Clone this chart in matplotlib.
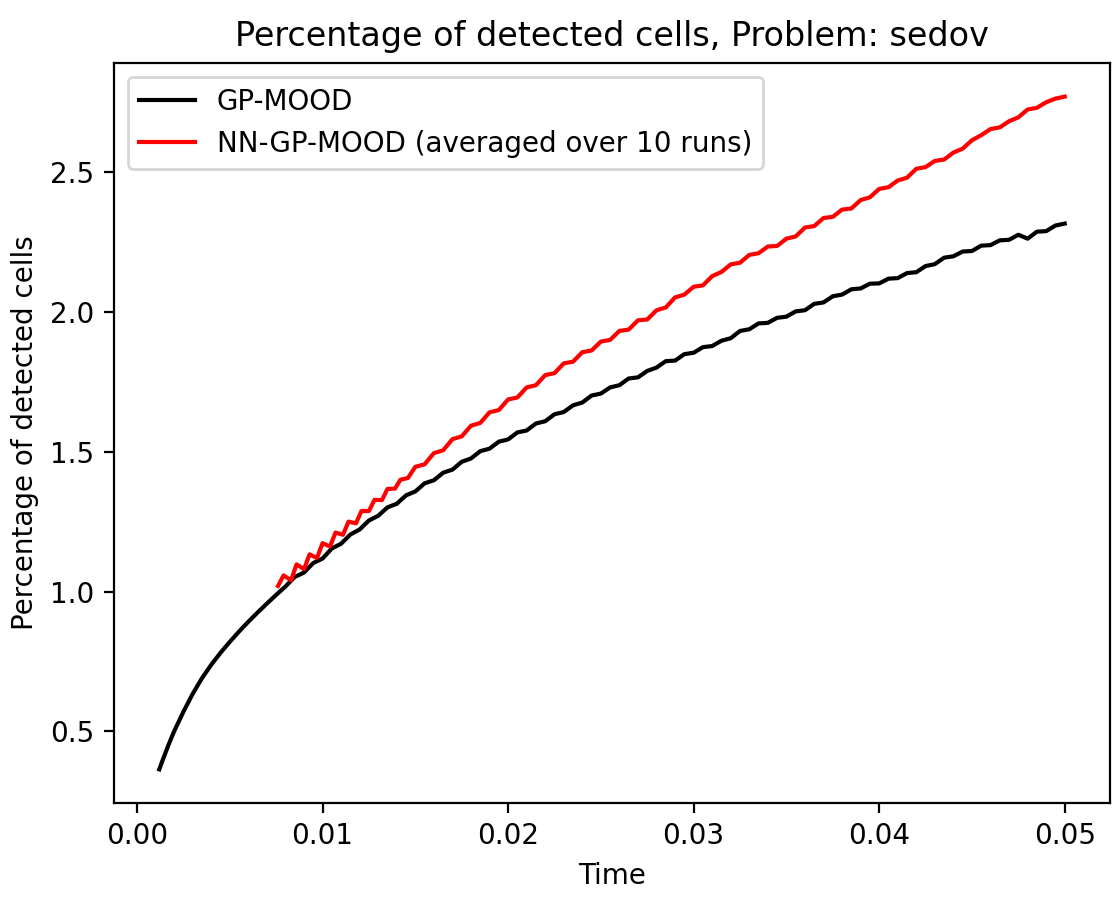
import matplotlib
matplotlib.use("Agg")
import matplotlib.pyplot as plt

# GP-MOOD: time and percentage of detected cells
time_gp = [0.0012, 0.0014, 0.0017, 0.0020, 0.0025, 0.0030, 0.0035, 0.0040, 0.0045, 0.0050, 0.0055,
           0.0060, 0.0065, 0.0070, 0.0075, 0.0080, 0.0085, 0.0090, 0.0095, 0.0100, 0.0105,
           0.0110, 0.0115, 0.0120, 0.0125, 0.0130, 0.0135, 0.0140, 0.0145, 0.0150, 0.0155,
           0.0160, 0.0165, 0.0170, 0.0175, 0.0180, 0.0185, 0.0190, 0.0195, 0.0200, 0.0205,
           0.0210, 0.0215, 0.0220, 0.0225, 0.0230, 0.0235, 0.0240, 0.0245, 0.0250, 0.0255,
           0.0260, 0.0265, 0.0270, 0.0275, 0.0280, 0.0285, 0.0290, 0.0295, 0.0300, 0.0305,
           0.0310, 0.0315, 0.0320, 0.0325, 0.0330, 0.0335, 0.0340, 0.0345, 0.0350, 0.0355,
           0.0360, 0.0365, 0.0370, 0.0375, 0.0380, 0.0385, 0.0390, 0.0395, 0.0400, 0.0405,
           0.0410, 0.0415, 0.0420, 0.0425, 0.0430, 0.0435, 0.0440, 0.0445, 0.0450, 0.0455,
           0.0460, 0.0465, 0.0470, 0.0475, 0.0480, 0.0485, 0.0490, 0.0495, 0.0500]
pct_gp = [0.364, 0.400, 0.452, 0.500, 0.570, 0.634, 0.690, 0.738, 0.781, 0.820, 0.857,
          0.892, 0.925, 0.957, 0.988, 1.018, 1.052, 1.068, 1.102, 1.118, 1.154,
          1.171, 1.204, 1.222, 1.254, 1.271, 1.301, 1.314, 1.344, 1.358, 1.387,
          1.398, 1.425, 1.436, 1.464, 1.476, 1.502, 1.511, 1.536, 1.544, 1.569,
          1.576, 1.601, 1.609, 1.634, 1.642, 1.666, 1.676, 1.701, 1.708, 1.730,
          1.738, 1.762, 1.766, 1.789, 1.801, 1.824, 1.826, 1.849, 1.854, 1.874,
          1.878, 1.897, 1.906, 1.932, 1.938, 1.959, 1.961, 1.979, 1.983, 2.002,
          2.006, 2.029, 2.034, 2.056, 2.062, 2.081, 2.084, 2.101, 2.102, 2.119,
          2.121, 2.139, 2.142, 2.164, 2.171, 2.194, 2.199, 2.216, 2.218, 2.237,
          2.239, 2.256, 2.258, 2.276, 2.262, 2.287, 2.289, 2.309, 2.316]

# NN-GP-MOOD (averaged over 10 runs)
time_nn = [0.0076, 0.0079, 0.0083, 0.0086, 0.0090, 0.0093, 0.0097, 0.0100, 0.0104, 0.0107,
           0.0111, 0.0114, 0.0118, 0.0121, 0.0125, 0.0128, 0.0132, 0.0135, 0.0139, 0.0142,
           0.0146, 0.0150, 0.0155, 0.0160, 0.0165, 0.0170, 0.0175, 0.0180, 0.0185, 0.0190,
           0.0195, 0.0200, 0.0205, 0.0210, 0.0215, 0.0220, 0.0225, 0.0230, 0.0235, 0.0240,
           0.0245, 0.0250, 0.0255, 0.0260, 0.0265, 0.0270, 0.0275, 0.0280, 0.0285, 0.0290,
           0.0295, 0.0300, 0.0305, 0.0310, 0.0315, 0.0320, 0.0325, 0.0330, 0.0335, 0.0340,
           0.0345, 0.0350, 0.0355, 0.0360, 0.0365, 0.0370, 0.0375, 0.0380, 0.0385, 0.0390,
           0.0395, 0.0400, 0.0405, 0.0410, 0.0415, 0.0420, 0.0425, 0.0430, 0.0435, 0.0440,
           0.0445, 0.0450, 0.0455, 0.0460, 0.0465, 0.0470, 0.0475, 0.0480, 0.0485, 0.0490,
           0.0495, 0.0500]
pct_nn = [1.020, 1.058, 1.040, 1.097, 1.080, 1.133, 1.120, 1.173, 1.161, 1.211,
          1.203, 1.250, 1.244, 1.288, 1.288, 1.328, 1.327, 1.367, 1.368, 1.400,
          1.406, 1.446, 1.455, 1.495, 1.505, 1.545, 1.555, 1.593, 1.603, 1.641,
          1.649, 1.687, 1.694, 1.730, 1.738, 1.774, 1.781, 1.816, 1.822, 1.856,
          1.862, 1.894, 1.900, 1.932, 1.937, 1.970, 1.973, 2.006, 2.016, 2.052,
          2.062, 2.090, 2.095, 2.128, 2.143, 2.170, 2.176, 2.204, 2.210, 2.234,
          2.236, 2.262, 2.270, 2.302, 2.307, 2.336, 2.340, 2.366, 2.370, 2.400,
          2.410, 2.440, 2.446, 2.470, 2.480, 2.512, 2.518, 2.540, 2.545, 2.570,
          2.584, 2.614, 2.632, 2.654, 2.660, 2.682, 2.696, 2.724, 2.730, 2.750,
          2.763, 2.770]

fig = plt.figure(figsize=(11.12 / 2, 9.0 / 2), dpi=200)
ax = fig.add_axes([114 / 1112, 97 / 900, 996 / 1112, 740 / 900])
ax.plot(time_gp, pct_gp, color="black", label="GP-MOOD")
ax.plot(time_nn, pct_nn, color="red", label="NN-GP-MOOD (averaged over 10 runs)")
ax.set_xticks([0.0, 0.01, 0.02, 0.03, 0.04, 0.05])
ax.set_yticks([0.5, 1.0, 1.5, 2.0, 2.5])
ax.set_xlabel("Time")
ax.set_ylabel("Percentage of detected cells")
ax.set_title("Percentage of detected cells, Problem: sedov")
ax.legend(loc="upper left")
fig.savefig("out.png", dpi=200)
